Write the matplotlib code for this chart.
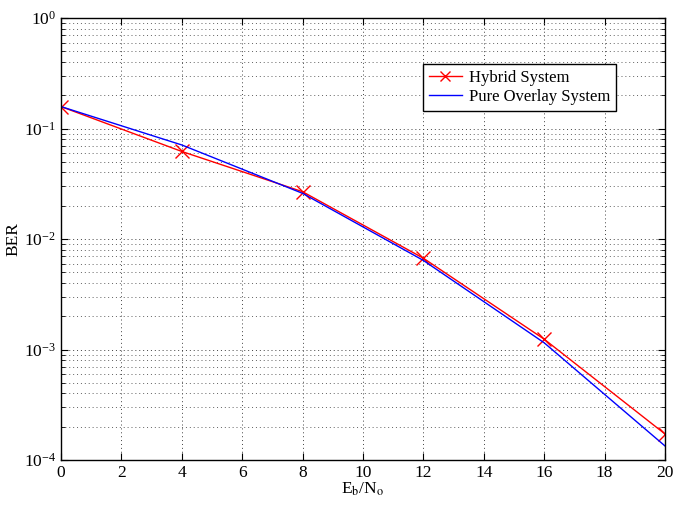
import matplotlib.pyplot as plt
from matplotlib.ticker import LogLocator, NullFormatter

# BER vs Eb/No for the two systems
ebno = [0, 4, 8, 12, 16, 20]
ber_hybrid = [0.158, 0.062, 0.0268, 0.0067, 0.00124, 1.72e-4]
ber_overlay = [0.158, 0.071, 0.0259, 0.0064, 0.00115, 1.34e-4]
x_ticks = [0, 2, 4, 6, 8, 10, 12, 14, 16, 18, 20]

plt.rcParams['font.family'] = ['Liberation Serif', 'DejaVu Serif']
plt.rcParams['mathtext.fontset'] = 'stix'

fig = plt.figure(figsize=(6.73, 5.08), dpi=100)
ax = fig.add_axes([0.0906, 0.0945, 0.8975, 0.870])

ax.semilogy(ebno, ber_hybrid, color='red', marker='x', markersize=10,
            markeredgewidth=1.0, linewidth=1.0, label='Hybrid System')
ax.semilogy(ebno, ber_overlay, color='blue', linewidth=1.0,
            label='Pure Overlay System')

ax.set_xlim(0, 20)
ax.set_ylim(1e-4, 1e0)
ax.set_xticks(x_ticks)
ax.yaxis.set_major_locator(LogLocator(base=10, numticks=10))
ax.yaxis.set_minor_locator(LogLocator(base=10, subs=range(2, 10), numticks=50))
ax.yaxis.set_minor_formatter(NullFormatter())

# sparse dotted grid, lighter on the minor lines
ax.grid(True, which='major', linestyle=(0, (1, 3)), color='#404040', linewidth=0.7)
ax.grid(True, which='minor', axis='y', linestyle=(0, (1, 3)), color='#606060', linewidth=0.7)

ax.tick_params(which='both', direction='in', top=True, right=True, labelsize=12.5)
ax.tick_params(which='major', length=5)
ax.tick_params(which='minor', length=3)
for s in ax.spines.values():
    s.set_linewidth(1.0)

ax.set_xlabel(r'E$_\mathrm{b}$/N$_\mathrm{o}$', fontsize=12.5, labelpad=0)
ax.set_ylabel('BER', fontsize=12.5, labelpad=2)

leg = ax.legend(loc='upper left', bbox_to_anchor=(0.599, 0.896), fontsize=12,
                fancybox=False, framealpha=1, edgecolor='black',
                borderpad=0.35, handlelength=2.0, handletextpad=0.4,
                labelspacing=0.2, borderaxespad=0, markerscale=0.75)
leg.get_frame().set_linewidth(1.0)

fig.savefig('out.png', dpi=100)
